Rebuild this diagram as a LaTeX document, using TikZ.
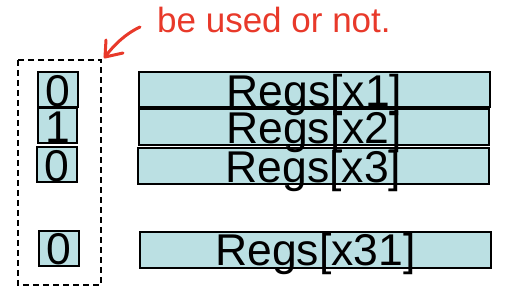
\documentclass[tikz,border=0pt]{standalone}
\usepackage{fontspec}
\setmainfont{Liberation Sans}
\begin{document}
\begin{tikzpicture}[x=1pt,y=-1pt,
  cellfill/.style={fill=cellcol,draw=black,line width=1.2pt},
  bigtext/.style={anchor=base,inner sep=0pt,font=\fontsize{44.5}{44.5}\selectfont},
  note/.style={text=notered,anchor=base west,inner sep=0pt,font=\fontsize{35}{35}\selectfont}]
\definecolor{cellcol}{HTML}{BBE0E3}
\definecolor{notered}{HTML}{E8392A}
\useasboundingbox (0,0) rectangle (507,307);

% register cells
\draw[cellfill] (139,72) rectangle (490,107);
\draw[cellfill] (139,109) rectangle (489,145);
\draw[cellfill] (138,148) rectangle (489,184);
\draw[cellfill] (140,232) rectangle (491,268);

% valid bits
\draw[cellfill] (38,72) rectangle (78,107);
\draw[cellfill] (38,108) rectangle (77,143);
\draw[cellfill] (37,147) rectangle (77,182);
\draw[cellfill] (39,231) rectangle (79,266);

% labels
\node[bigtext] (t1) at (314.5,107) {Regs[x1]};
\node[bigtext] (t2) at (314,144) {Regs[x2]};
\node[bigtext] (t3) at (313.5,183) {Regs[x3]};
\node[bigtext] (t31) at (315.5,266) {Regs[x31]};

\node[bigtext] (b1) at (58,107) {0};
\node[bigtext] (b2) at (57.5,143) {1};
\node[bigtext] (b3) at (57,182) {0};
\node[bigtext] (b31) at (59,265) {0};

% group of valid bits
\draw[dashed,dash pattern=on 6pt off 4pt,line width=1.2pt] (18,60) rectangle (101,285);

% annotation
\node[note] (ann) at (157,33) {be used or not.};
\coordinate (tip) at (105,57);
\draw[notered,line width=3pt,line cap=round,line join=round]
  (140,27) .. controls (125,34) and (113,46) .. (tip);
\draw[notered,line width=3pt,line cap=round,line join=round]
  (106,40) -- (tip) -- (123,53);
\end{tikzpicture}
\end{document}
